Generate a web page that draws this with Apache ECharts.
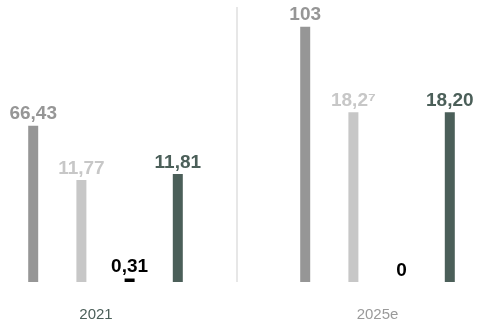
<!DOCTYPE html>
<html>
<head>
<meta charset="utf-8">
<script src="https://cdn.jsdelivr.net/npm/echarts@6/dist/echarts.min.js"></script>
<style>html,body{margin:0;padding:0;background:#fff}#c{width:478px;height:326px}</style>
</head>
<body>
<div id="c"></div>
<script>
const categories = ['2021', '2025e'];
const series1 = [66.43, 103];
const series2 = [11.77, 18.27];
const series3 = [0.31, 0];
const series4 = [11.81, 18.20];
const labels1 = ['66,43', '103'];
const labels2 = ['11,77', '18,2\u2077'];
const labels3 = ['0,31', '0'];
const labels4 = ['11,81', '18,20'];
const colors = ['#969696', '#c7c7c7', '#000000', '#4b5f59'];
// per-series hidden scales (the infographic scales each bar family separately)
const axisRanges = [[8.7, 110.3], [1.98, 28.37], [0, 24.3], [0.63, 29.1]];

const chart = echarts.init(document.getElementById('c'), null, {renderer: 'canvas'});
const font = "'Liberation Sans', Arial, sans-serif";

function mkSeries(data, labels, idx) {
  return {
    type: 'bar',
    yAxisIndex: idx,
    data: data,
    barWidth: 10,
    barGap: '382%',
    itemStyle: {color: colors[idx]},
    label: {
      show: true,
      position: 'top',
      distance: 2,
      fontFamily: font,
      fontWeight: 'bold',
      fontSize: 19,
      color: colors[idx],
      formatter: p => labels[p.dataIndex]
    },
    silent: true,
    animation: false
  };
}

chart.setOption({
  animation: false,
  grid: {left: 105.5, right: 100.5, top: 7, bottom: 44, containLabel: false},
  xAxis: {
    type: 'category',
    data: categories,
    boundaryGap: false,
    axisLine: {show: false},
    axisTick: {show: false},
    splitLine: {show: false},
    axisLabel: {
      margin: 25,
      fontFamily: font,
      fontSize: 15,
      formatter: (v, i) => i === 0 ? '{a|' + v + '}' : '{b|' + v + '}',
      rich: {
        a: {color: '#4b5f59', fontSize: 15, fontFamily: font, padding: [0, 19, 0, 0]},
        b: {color: '#9a9a9a', fontSize: 15, fontFamily: font}
      }
    }
  },
  yAxis: axisRanges.map(r => ({type: 'value', min: r[0], max: r[1], show: false, splitLine: {show: false}})),
  graphic: [{
    type: 'line',
    shape: {x1: 237, y1: 7, x2: 237, y2: 282},
    style: {stroke: '#cfcfcf', lineWidth: 1}
  }],
  series: [
    mkSeries(series1, labels1, 0),
    mkSeries(series2, labels2, 1),
    mkSeries(series3, labels3, 2),
    mkSeries(series4, labels4, 3)
  ]
});
</script>
</body>
</html>
